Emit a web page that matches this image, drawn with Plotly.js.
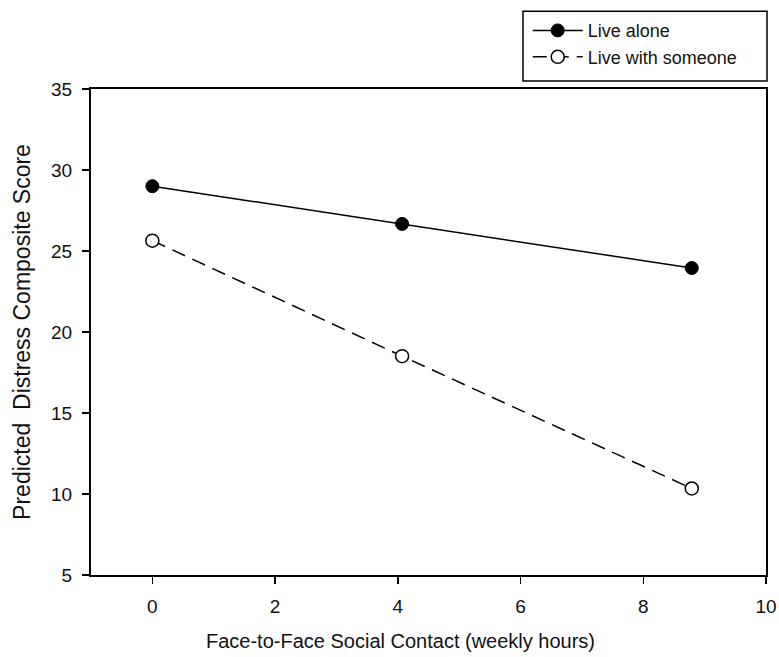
<!DOCTYPE html>
<html>
<head>
<meta charset="utf-8">
<script src="https://cdn.plot.ly/plotly-3.0.1.min.js"></script>
<style>
  html, body { margin: 0; padding: 0; background: #fff; }
  #chart { width: 779px; height: 657px; }
</style>
</head>
<body>
<div id="chart"></div>
<script>
// Weekly face-to-face contact hours at which distress is predicted
const contactHours = [0, 4.07, 8.79];

// Predicted distress composite scores by living situation
const liveAlone = [29.0, 26.67, 23.95];
const liveWithSomeone = [25.64, 18.51, 10.34];

const seriesNames = ['Live alone', 'Live with someone'];

const xTicks = [0, 2, 4, 6, 8, 10];
const yTicks = [5, 10, 15, 20, 25, 30, 35];

const xTitle = 'Face-to-Face Social Contact (weekly hours)';
const yTitle = 'Predicted  Distress Composite Score';

const fontFamily = 'Arial, "Liberation Sans", sans-serif';

const traces = [
  {
    x: contactHours,
    y: liveAlone,
    name: seriesNames[0],
    type: 'scatter',
    mode: 'lines+markers',
    line: { color: '#000', width: 1.5 },
    marker: { symbol: 'circle', size: 13, color: '#000', line: { color: '#000', width: 1 } }
  },
  {
    x: contactHours,
    y: liveWithSomeone,
    name: seriesNames[1],
    type: 'scatter',
    mode: 'lines+markers',
    line: { color: '#000', width: 1.5, dash: '14px,8px' },
    marker: { symbol: 'circle', size: 13, color: '#fff', line: { color: '#000', width: 1.5 } }
  }
];

const axisCommon = {
  showgrid: false,
  zeroline: false,
  showline: true,
  linecolor: '#000',
  linewidth: 2,
  mirror: true,
  ticks: 'outside',
  ticklen: 7,
  tickwidth: 1.5,
  tickcolor: '#000',
  tickfont: { family: fontFamily, size: 19, color: '#111' }
};

const layout = {
  width: 779,
  height: 657,
  margin: { l: 91, r: 13, t: 87, b: 82 },
  paper_bgcolor: '#fff',
  plot_bgcolor: '#fff',
  font: { family: fontFamily, color: '#111' },
  showlegend: true,
  legend: {
    x: 0.647,
    xanchor: 'left',
    y: 1.158,
    yanchor: 'top',
    bgcolor: 'rgba(0,0,0,0)',
    borderwidth: 0,
    itemwidth: 50,
    font: { family: fontFamily, size: 18, color: '#111' },
    tracegroupgap: 0
  },
  // framed box behind the legend entries
  shapes: [
    {
      type: 'rect',
      xref: 'paper',
      yref: 'paper',
      x0: 0.64,
      x1: 1.0015,
      y0: 1.0164,
      y1: 1.16,
      line: { color: '#000', width: 1.5 },
      fillcolor: 'rgba(0,0,0,0)',
      layer: 'below'
    }
  ],
  xaxis: Object.assign({}, axisCommon, {
    range: [-1, 10],
    tickvals: xTicks,
    ticktext: xTicks.map(String),
    ticklabelstandoff: 6
  }),
  yaxis: Object.assign({}, axisCommon, {
    range: [5, 35],
    tickvals: yTicks,
    ticktext: yTicks.map(String),
    ticklabelstandoff: 6,
    title: {
      text: yTitle,
      font: { family: fontFamily, size: 23, color: '#111' },
      standoff: 14
    }
  }),
  // x-axis title sits a little left of the plot centre
  annotations: [
    {
      text: xTitle,
      xref: 'paper',
      yref: 'paper',
      x: 0.458,
      y: -0.135,
      xanchor: 'center',
      yanchor: 'middle',
      showarrow: false,
      font: { family: fontFamily, size: 20, color: '#111' }
    }
  ]
};

Plotly.newPlot('chart', traces, layout, { displayModeBar: false, staticPlot: true });
</script>
</body>
</html>
